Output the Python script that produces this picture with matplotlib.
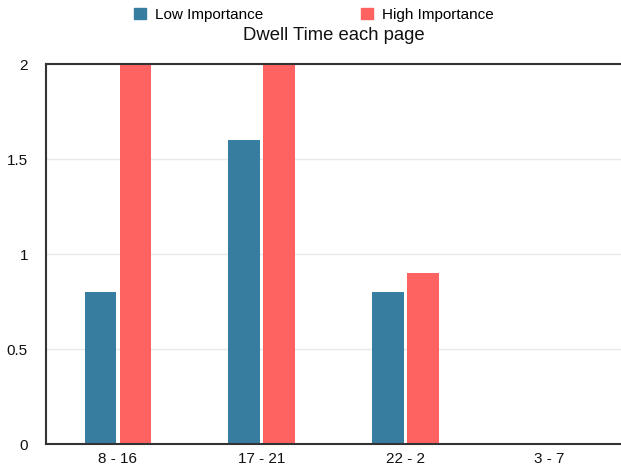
import matplotlib
matplotlib.use("Agg")
import matplotlib.pyplot as plt
import numpy as np
from matplotlib.patches import Patch

plt.rcParams['font.family'] = ['Liberation Sans', 'DejaVu Sans']

categories = ["8 - 16", "17 - 21", "22 - 2", "3 - 7"]
low_importance = [0.8, 1.6, 0.8, 0]
high_importance = [2, 2, 0.9, 0]
y_ticks = [0, 0.5, 1, 1.5, 2]
y_tick_labels = ["0", "0.5", "1", "1.5", "2"]

low_color = "#377da0"
high_color = "#ff6361"

fig = plt.figure(figsize=(6.21, 4.70), dpi=100)
ax = fig.add_axes([0.0741, 0.0553, 0.9259, 0.8085])

x = np.arange(len(categories))
width = 0.22
offset = 0.122
ax.bar(x - offset, low_importance, width, color=low_color, zorder=2)
ax.bar(x + offset, high_importance, width, color=high_color, zorder=2)

ax.set_xlim(-0.5, len(categories) - 0.5)
ax.set_ylim(0, 2)
ax.set_yticks(y_ticks)
ax.set_yticklabels(y_tick_labels)
ax.set_xticks(x)
ax.set_xticklabels(categories)
ax.tick_params(axis='both', length=0, labelsize=11, colors="#111111")
ax.tick_params(axis='y', pad=13)
ax.tick_params(axis='x', pad=6)

ax.yaxis.grid(True, color="#e8e8e8", linewidth=1, zorder=0)
ax.set_axisbelow(True)

for side in ("top", "bottom", "left"):
    ax.spines[side].set_color("#333333")
    ax.spines[side].set_linewidth(1.5)
ax.spines["right"].set_visible(False)

ax.set_title("Dwell Time each page", fontsize=13.3, pad=17, color="#111111")

handles = [Patch(color=low_color, label="Low Importance"),
           Patch(color=high_color, label="High Importance")]
fig.legend(handles=handles, loc="center", ncol=2, frameon=False,
           bbox_to_anchor=(0.505, 0.969), fontsize=11, handlelength=0.78,
           handleheight=0.78, handletextpad=0.6, columnspacing=6.4,
           borderpad=0)

fig.savefig("out.png", dpi=100)
